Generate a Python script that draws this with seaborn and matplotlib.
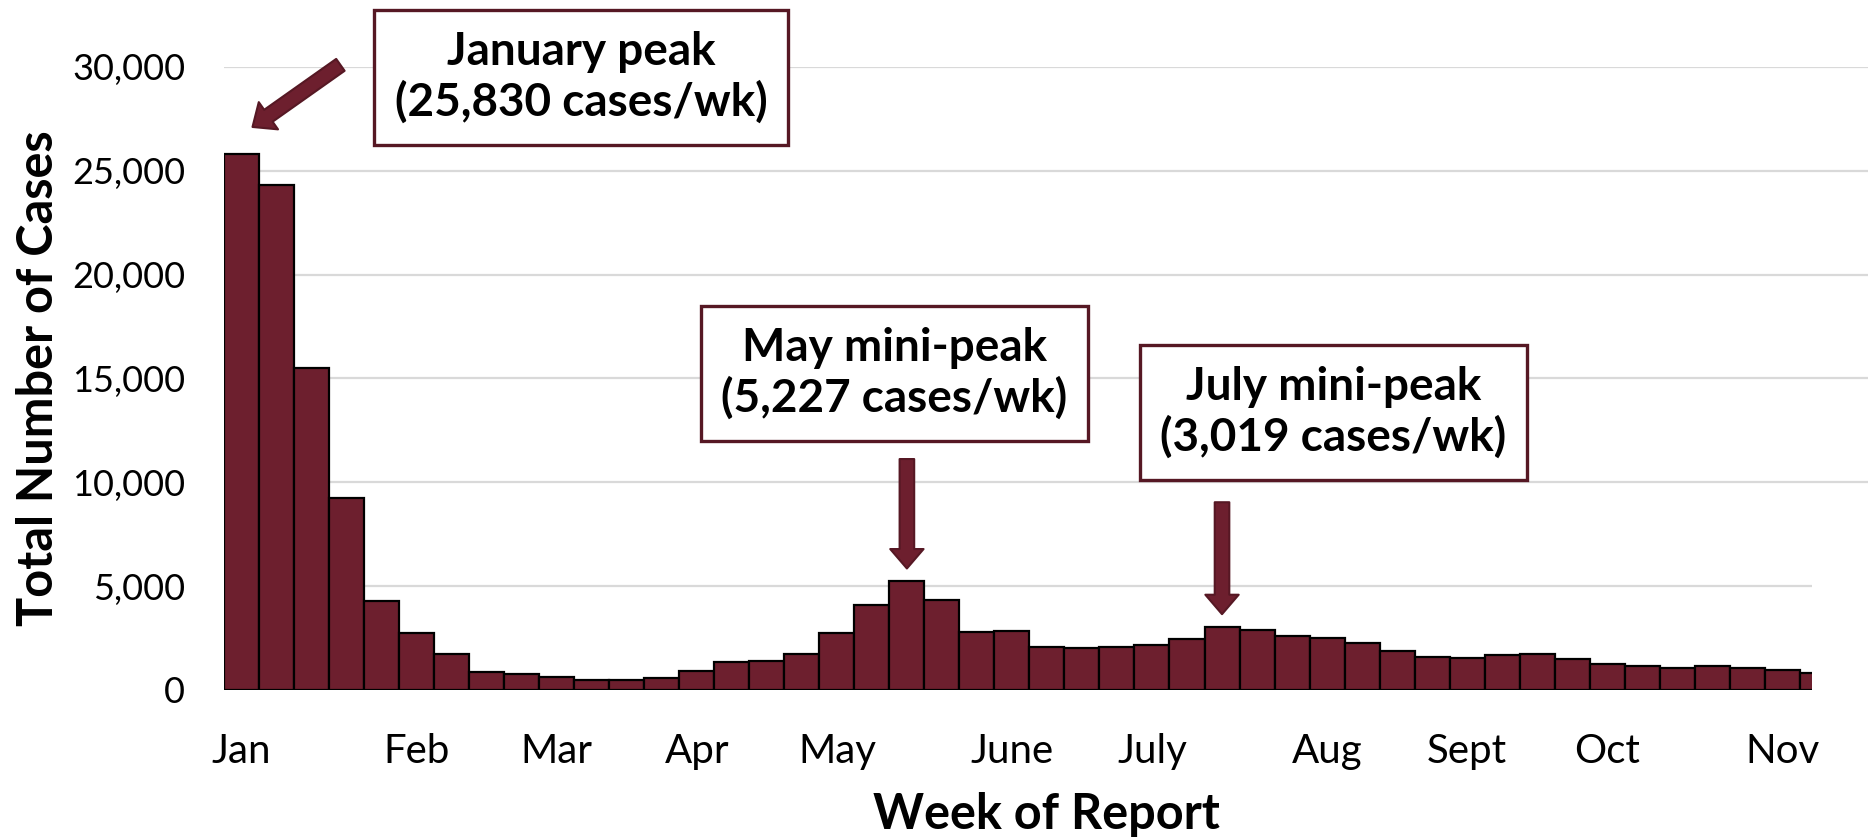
"""Weekly case counts with January peak and two mini-peaks annotated."""
from matplotlib import pyplot as plt
from matplotlib.patches import Rectangle
from matplotlib.ticker import FuncFormatter
import numpy as np
import pandas as pd
import seaborn as sns


# weekly totals, week 0 = first week of January
weekly_cases = [
    25830, 24300, 15500, 9250, 4300, 2740, 1740, 870, 750, 620,
    470, 480, 570, 890, 1350, 1390, 1750, 2720, 4070, 5227,
    4330, 2800, 2840, 2070, 2000, 2070, 2180, 2440, 3019, 2880,
    2600, 2510, 2240, 1880, 1590, 1540, 1700, 1750, 1510, 1270,
    1160, 1080, 1140, 1080, 950, 820,
]
month_labels = ["Jan", "Feb", "Mar", "Apr", "May", "June", "July", "Aug", "Sept", "Oct", "Nov"]
month_weeks = [0, 5, 9, 13, 17, 22, 26, 31, 35, 39, 44]
y_ticks = [0, 5000, 10000, 15000, 20000, 25000, 30000]

peak_texts = [
    "January peak\n(25,830 cases/wk)",
    "May mini-peak\n(5,227 cases/wk)",
    "July mini-peak\n(3,019 cases/wk)",
]
peak_weeks = [0, 19, 28]

df = pd.DataFrame({"week": range(len(weekly_cases)), "cases": weekly_cases})

maroon = "#6d1f2e"
dark_maroon = "#561824"
grid_grey = "#d9d9d9"

sns.set_style("white")
plt.rcParams["font.family"] = ["Lato", "DejaVu Sans"]
plt.rcParams["text.color"] = "black"
plt.rcParams["axes.labelcolor"] = "black"

fig = plt.figure(figsize=(18.68, 8.4), dpi=100)
ax = fig.add_axes([0.12, 0.1786, 0.88, 0.7417])

sns.barplot(
    data=df, x="week", y="cases", ax=ax,
    color=maroon, saturation=1, width=1,
    edgecolor="black", linewidth=1.6,
)

ax.set_xlim(-0.5, 46.45)
ax.set_ylim(0, 30000)
ax.set_yticks(y_ticks)
ax.yaxis.set_major_formatter(FuncFormatter(lambda v, _: f"{int(v):,}"))
ax.set_xticks(month_weeks)
ax.set_xticklabels(month_labels)
ax.set_xticks(np.arange(-0.5, len(weekly_cases)), minor=True)

ax.tick_params(axis="y", length=0, pad=28, labelsize=26, labelcolor="black")
ax.tick_params(axis="x", which="major", length=0, pad=31, labelsize=29, labelcolor="black")
ax.tick_params(axis="x", which="minor", length=11, width=1.3, color=grid_grey)

ax.yaxis.grid(True, color=grid_grey, linewidth=1.6)
ax.set_axisbelow(True)
sns.despine(ax=ax, left=True, bottom=True, right=True, top=True)

ax.set_xlabel("Week of Report", fontsize=35, fontweight="bold", labelpad=16)
ax.set_ylabel("Total Number of Cases", fontsize=35, fontweight="bold", labelpad=8)

# white patch over the lower-right corner, as in the source graphic
ax.add_patch(Rectangle((44.85, -1000), 3, 7060, facecolor="white",
                       edgecolor="none", zorder=5, clip_on=False))

box_style = dict(boxstyle="square,pad=0.45", facecolor="white",
                 edgecolor=dark_maroon, linewidth=2.4)
box_pos = [(9.7, 29500), (18.64, 15240), (31.18, 13360)]
for (bx, by), label in zip(box_pos, peak_texts):
    ax.text(bx, by, label, ha="center", va="center", fontsize=33,
            fontweight="bold", linespacing=1.22, bbox=box_style, zorder=6)

arrow_style = dict(
    arrowstyle="simple,head_length=1.4,head_width=2.4,tail_width=1.05",
    mutation_scale=10, facecolor=maroon, edgecolor=dark_maroon,
    linewidth=1.5, shrinkA=0, shrinkB=0,
)
# tails/tips in data units: (x tail, y tail) -> (x tip, y tip)
arrow_tails = [(2.82, 30100), (peak_weeks[1], 11120), (peak_weeks[2], 9040)]
arrow_tips = [(peak_weeks[0] + 0.31, 27110), (peak_weeks[1], 5850), (peak_weeks[2], 3650)]
for tail, tip in zip(arrow_tails, arrow_tips):
    ax.annotate("", xy=tip, xytext=tail, arrowprops=arrow_style,
                annotation_clip=False, zorder=6)

fig.savefig("out.png", dpi=100)
